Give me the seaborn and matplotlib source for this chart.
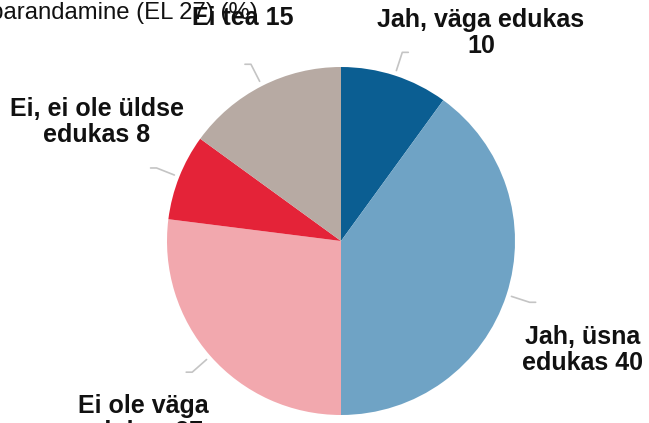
import numpy as np
import matplotlib
matplotlib.use("Agg")
import matplotlib.pyplot as plt
import seaborn as sns

sns.set_theme(style="white")
plt.rcParams['font.family'] = ['Liberation Sans', 'DejaVu Sans']

# data (clockwise from 12 o'clock)
labels = ["Jah, väga edukas\n10", "Jah, üsna\nedukas 40", "Ei ole väga\nedukas 27",
          "Ei, ei ole üldse\nedukas 8", "Ei tea 15"]
values = [10, 40, 27, 8, 15]
colors = sns.color_palette(["#0b5e92", "#6fa3c5", "#f2a8ae", "#e42338", "#b7aaa3"])
title = "Kas riigi hallatavate ettevõtete juhtimise parandamine (EL 27) (%)"

W, H = 649, 423
fig = plt.figure(figsize=(6.49, 4.23), dpi=100)
ax = fig.add_axes([0, 0, 1, 1])

cx, cy, r = 341, H - 241, 174
wedges, _ = ax.pie(values, colors=colors, startangle=90, counterclock=False,
                   center=(cx, cy), radius=r, wedgeprops=dict(linewidth=0))
ax.set_xlim(0, W)
ax.set_ylim(0, H)
ax.set_aspect('equal')
ax.axis('off')

# leader lines from each wedge middle
for w in wedges:
    a = np.deg2rad((w.theta1 + w.theta2) / 2)
    dx, dy = np.cos(a), np.sin(a)
    x0, y0 = cx + r * 1.03 * dx, cy + r * 1.03 * dy
    x1, y1 = cx + r * 1.14 * dx, cy + r * 1.14 * dy
    x2 = x1 + 6 * np.sign(dx)
    ax.plot([x0, x1, x2], [y0, y1, y1], color="#c4c4c4", lw=1.2, solid_capstyle='round')

# label positions (pixel coords of the text centre)
label_pos = [(481, 33), (583, 350), (143, 419), (97, 122), (243, 18)]
for lab, (px, py) in zip(labels, label_pos):
    ax.text(px, H - py, lab, ha='center', va='center', fontsize=18,
            fontweight='bold', color='#111111', linespacing=1.15)

ax.text(258, H - 13, title, ha='right', va='center', fontsize=17.2, color='#111111')

fig.savefig("out.png", dpi=100)
